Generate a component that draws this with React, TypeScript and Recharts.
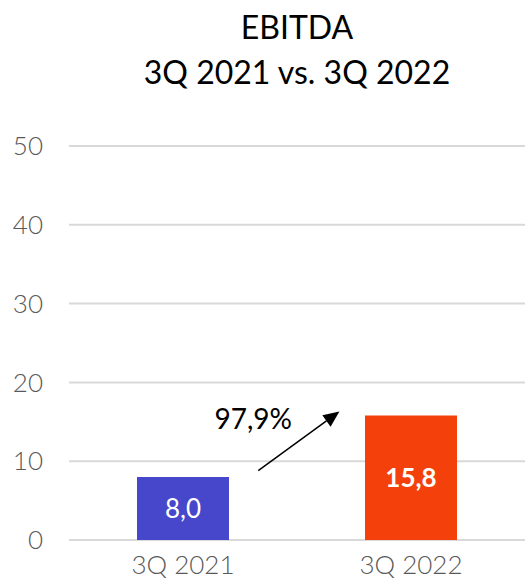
import { Bar, BarChart, CartesianGrid, Cell, LabelList, ReferenceLine, XAxis, YAxis } from 'recharts';

const quarters = ['3Q 2021', '3Q 2022'];
const ebitda = [8.0, 15.8];
const barColors = ['#4747CC', '#F4400A'];
const yTicks = [0, 10, 20, 30, 40, 50];
const growthLabel = '97,9%';
// arrow endpoints: x as a share of the plot width (hidden 0..1 axis), y on the value axis
const arrowFrom = { x: 0.415, y: 8.8 };
const arrowTo = { x: 0.593, y: 16.3 };

const data = quarters.map((q, i) => ({ quarter: q, value: ebitda[i], label: ebitda[i].toFixed(1).replace('.', ',') }));

const FONT = 'Lato, "Open Sans", sans-serif';

function Arrow(props: any) {
  const { x1, y1, x2, y2 } = props;
  const ang = Math.atan2(y2 - y1, x2 - x1);
  const len = 16;
  const w = 7;
  const bx = x2 - len * Math.cos(ang);
  const by = y2 - len * Math.sin(ang);
  const px = -Math.sin(ang) * w;
  const py = Math.cos(ang) * w;
  return (
    <g>
      <line x1={x1} y1={y1} x2={bx} y2={by} stroke="#000" strokeWidth={1.5} />
      <polygon points={`${x2},${y2} ${bx + px},${by + py} ${bx - px},${by - py}`} fill="#000" />
      <text x={x1 - 5} y={y1 - 42} textAnchor="middle" fontSize={28} fill="#000" fontFamily={FONT}>
        {growthLabel}
      </text>
    </g>
  );
}

export default function App() {
  return (
    <div style={{ position: 'absolute', left: 0, top: 0, width: 525, height: 583, background: '#fff' }}>
      <div
        style={{
          position: 'absolute',
          left: 0,
          width: 594,
          top: 4,
          textAlign: 'center',
          fontFamily: FONT,
          fontSize: 32,
          lineHeight: '45px',
          color: '#000',
        }}
      >
        <div>EBITDA</div>
        <div>3Q 2021 vs. 3Q 2022</div>
      </div>
      <BarChart width={525} height={583} data={data} margin={{ top: 146, right: 0, left: 0, bottom: 0 }}>
        <CartesianGrid vertical={false} stroke="#d9d9d9" strokeWidth={2} />
        <XAxis
          dataKey="quarter"
          axisLine={false}
          tickLine={false}
          tickSize={0}
          tickMargin={16}
          height={43}
          tick={{ fontSize: 26, fill: '#595959', fontFamily: FONT, fontWeight: 300 }}
        />
        <XAxis xAxisId="num" type="number" domain={[0, 1]} allowDataOverflow hide />
        <YAxis
          domain={[0, 50]}
          ticks={yTicks}
          axisLine={false}
          tickLine={false}
          tickSize={0}
          tickMargin={26}
          width={69}
          tick={{ fontSize: 26, fill: '#595959', fontFamily: FONT, fontWeight: 300 }}
        />
        <Bar dataKey="value" barSize={92} isAnimationActive={false}>
          {data.map((d, i) => (
            <Cell key={d.quarter} fill={barColors[i]} />
          ))}
          <LabelList
            dataKey="label"
            position="center"
            content={(p: any) => (
              <text
                x={p.x + p.width / 2}
                y={p.y + p.height / 2}
                dy="0.35em"
                textAnchor="middle"
                fill="#fff"
                fontSize={26}
                fontWeight={p.index === 1 ? 700 : 400}
                fontFamily={FONT}
              >
                {p.value}
              </text>
            )}
          />
        </Bar>
        <ReferenceLine
          xAxisId="num"
          segment={[arrowFrom, arrowTo]}
          shape={(p: any) => <Arrow {...p} />}
          ifOverflow="visible"
        />
      </BarChart>
    </div>
  );
}
